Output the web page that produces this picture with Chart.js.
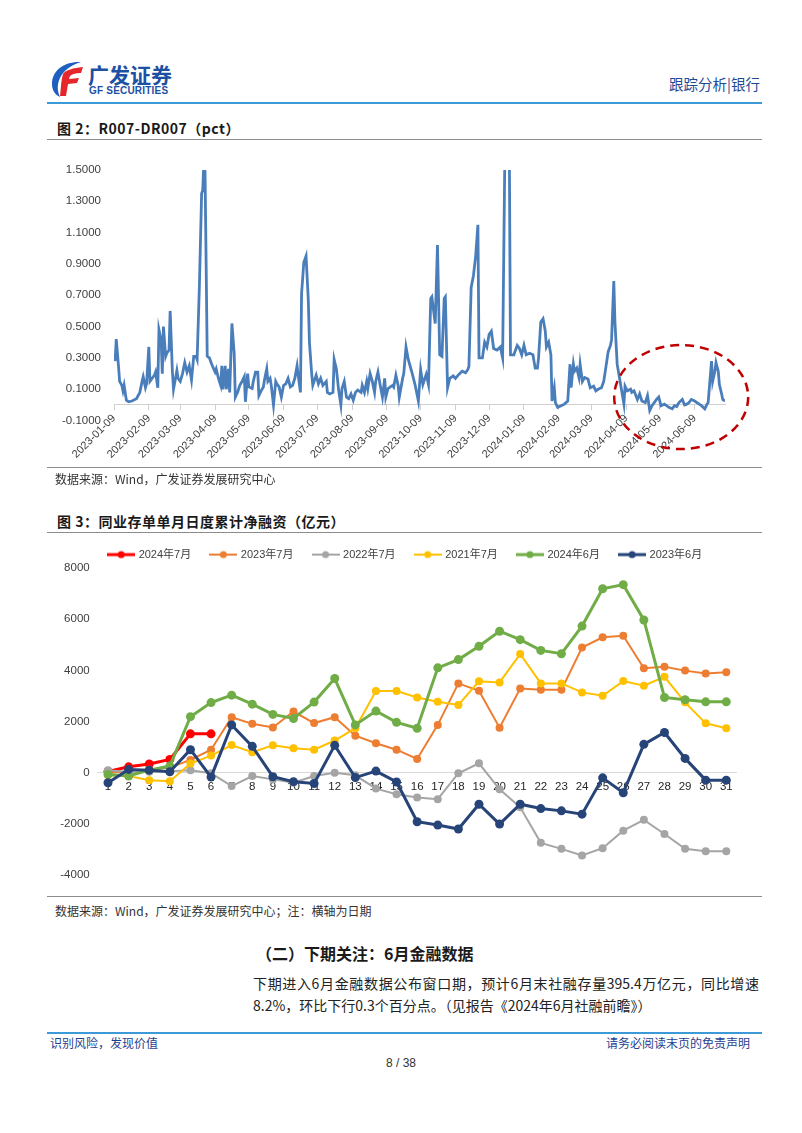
<!DOCTYPE html>
<html lang="zh-CN">
<head>
<meta charset="utf-8">
<title>跟踪分析 | 银行</title>
<script src="https://cdn.jsdelivr.net/npm/chart.js@4.4.1/dist/chart.umd.min.js"></script>
<style>
  html, body { margin: 0; padding: 0; background: #fff; }
  body { width: 802px; height: 1133px; position: relative; overflow: hidden;
         font-family: "Noto Sans CJK SC", "Liberation Sans", sans-serif; color: #222; }
  .abs { position: absolute; white-space: nowrap; }
  .rule { position: absolute; left: 47px; width: 715px; height: 1px; background: #8c8c8c; }
  .blue-rule { position: absolute; left: 47px; width: 715px; height: 2px; background: #3d9ad8; }
  .fig-title { left: 57px; font-size: 14px; line-height: 20px; font-weight: bold; color: #1a1a1a; letter-spacing: 0.5px; }
  .source { left: 55px; font-size: 12px; line-height: 16px; color: #333; }
  canvas { position: absolute; }
</style>
</head>
<body>

<!-- header -->
<svg class="abs" style="left:48px;top:60px" width="38" height="38" viewBox="0 0 38 38">
  <path d="M33 2 C17 1 4 10 4 24 C4 30 7 35 12 37 C9 31 9 24 12 18 C15 11 23 5 33 2 Z" fill="#1f5fbf"/>
  <path d="M15 14 C18 10 25 8 35 7 L33 13 C28 13 24 14 22 16 L21 19 L31 18 L29 23 L20 24 L18 36 L12 36 C13 28 13 20 15 14 Z" fill="#e5262b"/>
</svg>
<div class="abs" style="left:88px;top:61px;font-size:21px;line-height:26px;font-weight:bold;color:#1d4fa3;">广发证券</div>
<div class="abs" style="left:89px;top:85px;font-family:'Liberation Sans',sans-serif;font-size:10px;line-height:11px;font-weight:bold;color:#1d4fa3;letter-spacing:0.2px;">GF SECURITIES</div>
<div class="abs" style="right:42px;top:74px;font-size:14.5px;line-height:20px;color:#1e4b94;">跟踪分析|银行</div>
<div class="blue-rule" style="top:102px;"></div>

<!-- figure 2 -->
<div class="abs fig-title" style="top:118px;">图 2：R007-DR007（pct）</div>
<div class="rule" style="top:139px;"></div>
<canvas id="r007Chart" width="720" height="320" style="left:40px;top:150px;"></canvas>
<div class="rule" style="top:467px;"></div>
<div class="abs source" style="top:471px;">数据来源：Wind，广发证券发展研究中心</div>

<!-- figure 3 -->
<div class="abs fig-title" style="top:511px;">图 3：同业存单单月日度累计净融资（亿元）</div>
<div class="rule" style="top:532px;"></div>
<canvas id="ncdChart" width="720" height="361" style="left:40px;top:529px;"></canvas>
<div class="rule" style="top:896px;"></div>
<div class="abs source" style="top:903px;">数据来源：Wind，广发证券发展研究中心；注：横轴为日期</div>

<!-- text -->
<div class="abs" style="left:256px;top:942px;font-size:16px;line-height:22px;font-weight:bold;color:#1a1a1a;">（二）下期关注：6月金融数据</div>
<div class="abs" style="left:253px;top:972px;width:506px;font-size:14px;line-height:22px;color:#222;text-align:justify;text-align-last:justify;">下期进入6月金融数据公布窗口期，预计6月末社融存量395.4万亿元，同比增速</div>
<div class="abs" style="left:253px;top:994px;font-size:14px;line-height:22px;color:#222;">8.2%，环比下行0.3个百分点。（见报告《2024年6月社融前瞻》）</div>

<!-- footer -->
<div class="blue-rule" style="top:1032px;"></div>
<div class="abs" style="left:50px;top:1035px;font-size:12px;line-height:16px;color:#1f3f8f;">识别风险，发现价值</div>
<div class="abs" style="right:52px;top:1035px;font-size:12px;line-height:16px;color:#1f3f8f;">请务必阅读末页的免责声明</div>
<div class="abs" style="left:0;width:802px;text-align:center;top:1055px;font-family:'Liberation Sans',sans-serif;font-size:12px;line-height:16px;color:#333;">8 / 38</div>

<script>
// ---------- Figure 2: R007-DR007 daily spread ----------
const r007Dates = [
  '2023-01-10','2023-01-11','2023-01-13','2023-01-14','2023-01-16','2023-01-17','2023-01-18','2023-01-20','2023-01-22','2023-01-25','2023-01-29',
  '2023-02-01','2023-02-03','2023-02-04','2023-02-06','2023-02-07','2023-02-09','2023-02-10','2023-02-12','2023-02-14','2023-02-15','2023-02-17','2023-02-18','2023-02-20','2023-02-21','2023-02-22','2023-02-24','2023-02-25','2023-02-27','2023-02-28',
  '2023-03-02','2023-03-03','2023-03-06','2023-03-07','2023-03-09','2023-03-11','2023-03-13','2023-03-15','2023-03-17','2023-03-19','2023-03-21','2023-03-23','2023-03-24','2023-03-26','2023-03-28','2023-03-29','2023-03-30','2023-03-31',
  '2023-04-02','2023-04-04','2023-04-06','2023-04-09','2023-04-10','2023-04-12','2023-04-14','2023-04-15','2023-04-16','2023-04-18','2023-04-19','2023-04-21','2023-04-22','2023-04-24','2023-04-26','2023-04-27','2023-04-29',
  '2023-05-01','2023-05-03','2023-05-05','2023-05-06','2023-05-08','2023-05-09','2023-05-12','2023-05-13','2023-05-15','2023-05-17','2023-05-18','2023-05-20','2023-05-22','2023-05-23','2023-05-25','2023-05-26','2023-05-28','2023-05-29','2023-05-31',
  '2023-06-02','2023-06-03','2023-06-05','2023-06-07','2023-06-09','2023-06-11','2023-06-13','2023-06-15','2023-06-17','2023-06-19','2023-06-21','2023-06-22','2023-06-24','2023-06-25','2023-06-27','2023-06-29',
  '2023-07-01','2023-07-02','2023-07-04','2023-07-05','2023-07-08','2023-07-10','2023-07-12','2023-07-14','2023-07-17','2023-07-18','2023-07-20','2023-07-23','2023-07-24','2023-07-26','2023-07-28','2023-07-30','2023-07-31',
  '2023-08-02','2023-08-04','2023-08-06','2023-08-08','2023-08-10','2023-08-12','2023-08-14','2023-08-17','2023-08-18','2023-08-20','2023-08-22','2023-08-23','2023-08-25','2023-08-27','2023-08-29','2023-08-30',
  '2023-09-01','2023-09-03','2023-09-05','2023-09-07','2023-09-08','2023-09-10','2023-09-12','2023-09-14','2023-09-15','2023-09-17','2023-09-19','2023-09-20','2023-09-23','2023-09-24','2023-09-26','2023-09-28',
  '2023-10-01','2023-10-04','2023-10-07','2023-10-09','2023-10-11','2023-10-14','2023-10-16','2023-10-18','2023-10-19','2023-10-22','2023-10-24','2023-10-26','2023-10-28','2023-10-30','2023-10-31',
  '2023-11-02','2023-11-04','2023-11-07','2023-11-09','2023-11-12','2023-11-15','2023-11-18','2023-11-20','2023-11-21','2023-11-23','2023-11-25','2023-11-27','2023-11-29','2023-11-30',
  '2023-12-03','2023-12-05','2023-12-07','2023-12-09','2023-12-11','2023-12-13','2023-12-16','2023-12-19','2023-12-21','2023-12-23','2023-12-25','2023-12-27','2023-12-28','2023-12-31',
  '2024-01-03','2024-01-05','2024-01-07','2024-01-09','2024-01-11','2024-01-14','2024-01-17','2024-01-19','2024-01-21','2024-01-22','2024-01-24','2024-01-26','2024-01-28','2024-01-29','2024-01-31',
  '2024-02-02','2024-02-03','2024-02-05','2024-02-06','2024-02-08','2024-02-11','2024-02-14','2024-02-17','2024-02-19','2024-02-20','2024-02-22','2024-02-23','2024-02-25','2024-02-27','2024-02-28',
  '2024-03-01','2024-03-03','2024-03-06','2024-03-08','2024-03-11','2024-03-13','2024-03-15','2024-03-18','2024-03-20','2024-03-21','2024-03-24','2024-03-26','2024-03-27','2024-03-29','2024-03-30',
  '2024-04-01','2024-04-03','2024-04-05','2024-04-07','2024-04-08','2024-04-10','2024-04-13','2024-04-14','2024-04-16','2024-04-19','2024-04-21','2024-04-23','2024-04-26','2024-04-28','2024-04-30',
  '2024-05-02','2024-05-04','2024-05-06','2024-05-08','2024-05-10','2024-05-13','2024-05-15','2024-05-17','2024-05-20','2024-05-22','2024-05-24','2024-05-26','2024-05-29','2024-05-31',
  '2024-06-02','2024-06-04','2024-06-06','2024-06-09','2024-06-12','2024-06-15','2024-06-18','2024-06-20','2024-06-21','2024-06-24','2024-06-25','2024-06-27','2024-06-28','2024-06-30',
  '2024-07-01','2024-07-03','2024-07-04','2024-07-06'
];
const r007Values = [
  0.28, 0.42, 0.25, 0.15, 0.125, 0.09, 0.125, 0.03, 0.02, 0.025, 0.04,
  0.08, 0.15, 0.18, 0.11, 0.135, 0.37, 0.15, 0.17, 0.19, 0.21, 0.11, 0.48, 0.41, 0.2, 0.5, 0.31, 0.33, 0.35, 0.6,
  0.21, 0.1, 0.22, 0.17, 0.15, 0.2, 0.27, 0.21, 0.25, 0.16, 0.31, 0.31, 0.29, 0.75, 1.35, 1.37, 1.55, 1.52,
  0.31, 0.3, 0.26, 0.21, 0.23, 0.17, 0.125, 0.25, 0.1, 0.25, 0.1, 0.23, 0.08, 0.52, 0.33, 0.05, 0.08,
  0.125, 0.15, 0.18, 0.02, 0.2, 0.115, 0.105, 0.15, 0.21, 0.21, 0.06, 0.09, 0.115, 0.16, 0.23, 0.15, 0.17, 0.125, 0,
  0.15, 0.135, 0.115, 0.05, 0.125, 0.135, 0.17, 0.115, 0.125, 0.17, 0.25, 0.19, 0.08, 0.71, 0.91, 0.95,
  0.67, 0.4, 0.2, 0.125, 0.19, 0.135, 0.17, 0.125, 0.15, 0.08, 0.07, 0.08, 0.29, 0.23, 0.095, 0, 0.105,
  0.15, 0.05, 0.04, 0.07, 0.03, 0.08, 0.095, 0.08, 0.125, 0.08, 0.15, 0.105, 0.2, 0.15, 0.08, 0.15,
  0.21, 0.125, 0.05, 0.17, 0.05, 0.105, 0.115, 0.125, 0.115, 0.19, 0.125, 0.05, 0.17, 0.2, 0.37, 0.29,
  0.215, 0.13, 0.025, 0.225, 0.13, 0.195, 0.13, 0.68, 0.69, 0.52, 1.02, 0.32, 0.31, 0.68, 0.69,
  0.11, 0.17, 0.185, 0.17, 0.195, 0.215, 0.205, 0.225, 0.245, 0.75, 0.825, 0.95, 1.15, 0.3,
  0.3, 0.4, 0.37, 0.45, 0.47, 0.36, 0.35, 0.37, 0.3, 1.6, 1.6, 1.6, 0.32, 0.32,
  0.38, 0.36, 0.32, 0.38, 0.32, 0.33, 0.32, 0.235, 0.235, 0.3, 0.53, 0.55, 0.47, 0.37, 0.4,
  0.32, 0.025, 0.11, 0.015, -0.015, -0.005, 0.005, 0.025, 0.26, 0.11, 0.26, 0.215, 0.235, 0.175, 0.26,
  0.15, 0.175, 0.165, 0.11, 0.12, 0.09, 0.1, 0.11, 0.15, 0.195, 0.34, 0.38, 0.415, 0.79, 0.53,
  0.26, 0.175, 0.09, 0.005, 0.12, 0.09, 0.1, 0.08, 0.09, 0.035, 0.07, 0.025, 0.015, 0.06, -0.035,
  -0.005, 0.015, 0.035, 0.05, -0.005, 0.005, -0.005, -0.015, -0.025, -0.005, -0.01, 0.015, 0.035, 0,
  0.005, 0.015, 0.035, 0.025, 0.01, -0.005, -0.025, 0.005, 0.015, 0.28, 0.15, 0.215, 0.27, 0.215,
  0.13, 0.07, 0.035, 0.025
];
const r007TickLabels = [
  '2023-01-09','2023-02-09','2023-03-09','2023-04-09','2023-05-09','2023-06-09','2023-07-09','2023-08-09','2023-09-09',
  '2023-10-09','2023-11-09','2023-12-09','2024-01-09','2024-02-09','2024-03-09','2024-04-09','2024-05-09','2024-06-09'
];
// dashed ring marking the recent low-spread period
const ringCenterDate = '2024-05-28';
const ringCenterValue = 0.05;

// ---------- Figure 3: NCD cumulative net financing by day of month ----------
const dayLabels = ['1','2','3','4','5','6','7','8','9','10','11','12','13','14','15','16','17','18','19','20','21','22','23','24','25','26','27','28','29','30','31'];
const seriesNames = ['2024年7月', '2023年7月', '2022年7月', '2021年7月', '2024年6月', '2023年6月'];
const seriesColors = ['#ff0000', '#ed7d31', '#a5a5a5', '#ffc000', '#70ad47', '#264478'];
const seriesWidths = [3, 2, 2, 2, 3, 3];
const jul2024 = [50, 230, 340, 520, 1520, 1520];
const jul2023 = [0, 60, 120, 200, 500, 900, 2170, 1910, 1770, 2390, 1940, 2170, 1450, 1150, 900, 540, 1870, 3490, 3200, 1760, 3290, 3240, 3240, 4890, 5290, 5350, 4080, 4140, 3990, 3880, 3930];
const jul2022 = [100, 30, 40, 60, 100, -20, -520, -130, -260, -390, -130, 0, -100, -620, -840, -970, -1035, -20, 366, -650, -1350, -2740, -2975, -3235, -2950, -2265, -1840, -2395, -2975, -3065, -3065];
const jul2021 = [-100, -130, -290, -330, 360, 670, 1080, 800, 1070, 955, 900, 1260, 1740, 3190, 3190, 2940, 2770, 2650, 3570, 3530, 4640, 3490, 3490, 3140, 3010, 3580, 3400, 3750, 2750, 1930, 1740];
const jun2024 = [-65, -130, 100, 260, 2190, 2740, 3030, 2680, 2280, 2120, 2760, 3680, 1870, 2410, 1970, 1740, 4100, 4420, 4940, 5530, 5200, 4780, 4650, 5730, 7190, 7350, 5970, 2940, 2850, 2770, 2770];
const jun2023 = [-390, 130, 100, 40, 900, -170, 1870, 1030, -155, -350, -420, 1070, -190, 65, -360, -1915, -2045, -2200, -1230, -2005, -1230, -1400, -1490, -1620, -200, -780, 1110, 1570, 560, -290, -290];
const seriesValues = [jul2024, jul2023, jul2022, jul2021, jun2024, jun2023];

Chart.defaults.font.family = '"Liberation Sans", Arial, "Noto Sans CJK SC", sans-serif';
Chart.defaults.color = '#404040';

function dayIndex(s) {
  const p = s.split('-');
  return Math.round((Date.UTC(+p[0], +p[1] - 1, +p[2]) - Date.UTC(2023, 0, 9)) / 86400000);
}

const tickDays = r007TickLabels.map(dayIndex);
const r007Points = r007Dates.map((d, i) => ({ x: dayIndex(d), y: r007Values[i] }));

const ringPlugin = {
  id: 'ring',
  afterDatasetsDraw(chart) {
    const { ctx, scales } = chart;
    const cx = scales.x.getPixelForValue(dayIndex(ringCenterDate));
    const cy = scales.y.getPixelForValue(ringCenterValue);
    ctx.save();
    ctx.strokeStyle = '#c00000';
    ctx.lineWidth = 2.5;
    ctx.setLineDash([9, 6]);
    ctx.beginPath();
    ctx.ellipse(cx, cy, 67, 52, 0, 0, Math.PI * 2);
    ctx.stroke();
    ctx.restore();
  }
};

new Chart(document.getElementById('r007Chart'), {
  type: 'line',
  data: {
    datasets: [{
      label: 'R007-DR007',
      data: r007Points,
      borderColor: '#4a7ebb',
      borderWidth: 2.8,
      pointRadius: 0,
      tension: 0
    }]
  },
  options: {
    responsive: false,
    animation: false,
    layout: { padding: { left: 0, right: 35, top: 13, bottom: 49.4 } },
    plugins: { legend: { display: false }, tooltip: { enabled: false } },
    scales: {
      x: {
        type: 'linear',
        position: { y: 0 },
        min: 0,
        max: dayIndex(r007Dates[r007Dates.length - 1]),
        afterBuildTicks: s => { s.ticks = tickDays.map(v => ({ value: v })); },
        ticks: {
          autoSkip: false, minRotation: 45, maxRotation: 45, padding: 2,
          font: { size: 11 }, color: '#404040',
          callback: v => r007TickLabels[tickDays.indexOf(v)]
        },
        grid: { display: true, drawOnChartArea: false, drawTicks: true, tickLength: 5, color: '#d0d0d0' },
        border: { color: '#d0d0d0', width: 1 }
      },
      y: {
        min: -0.1,
        max: 1.5,
        afterFit: s => { s.width = 74; },
        ticks: { stepSize: 0.2, padding: 13, font: { size: 11.5 }, color: '#404040', callback: v => v.toFixed(4) },
        grid: { display: false, drawTicks: false },
        border: { display: false }
      }
    }
  },
  plugins: [ringPlugin]
});

function legendIcon(color, width) {
  const c = document.createElement('canvas');
  c.width = 28; c.height = 10;
  const g = c.getContext('2d');
  g.strokeStyle = color; g.lineWidth = width;
  g.beginPath(); g.moveTo(0, 5); g.lineTo(28, 5); g.stroke();
  g.fillStyle = color;
  g.beginPath(); g.arc(14, 5, 3.5, 0, Math.PI * 2); g.fill();
  return c;
}

new Chart(document.getElementById('ncdChart'), {
  type: 'line',
  data: {
    labels: dayLabels,
    datasets: seriesNames.map((name, i) => ({
      label: name,
      data: seriesValues[i],
      borderColor: seriesColors[i],
      backgroundColor: seriesColors[i],
      borderWidth: seriesWidths[i],
      pointRadius: seriesWidths[i] > 2 ? 4.5 : 4,
      pointBackgroundColor: seriesColors[i],
      pointBorderColor: seriesColors[i],
      pointBorderWidth: 0,
      tension: 0,
      order: seriesNames.length - i
    }))
  },
  options: {
    responsive: false,
    animation: false,
    layout: { padding: { left: 20, right: 8.7, top: 0, bottom: 13 } },
    plugins: {
      tooltip: { enabled: false },
      legend: {
        position: 'top',
        maxHeight: 39,
        labels: {
          usePointStyle: true,
          pointStyleWidth: 24,
          padding: 20.1,
          color: '#404040',
          font: { size: 11 },
          sort: (a, b) => a.datasetIndex - b.datasetIndex,
          generateLabels(chart) {
            const items = Chart.defaults.plugins.legend.labels.generateLabels(chart);
            items.forEach(it => {
              it.pointStyle = legendIcon(seriesColors[it.datasetIndex], seriesWidths[it.datasetIndex]);
            });
            return items;
          }
        }
      }
    },
    scales: {
      x: {
        type: 'category',
        position: { y: 0 },
        offset: true,
        grid: { display: false, drawTicks: false },
        border: { color: '#d9d9d9', width: 1 },
        ticks: { autoSkip: false, maxRotation: 0, padding: 7, font: { size: 11.5 }, color: '#262626' }
      },
      y: {
        min: -4000,
        max: 8000,
        afterFit: s => { s.width = 37.7; },
        ticks: { stepSize: 2000, padding: 8, font: { size: 11.5 }, color: '#404040', callback: v => String(v) },
        grid: { display: false, drawTicks: false },
        border: { display: false }
      },
      // empty right-hand spacer so the legend centres like the original
      spacer: {
        type: 'linear',
        position: 'right',
        afterFit: s => { s.width = 14.7; },
        ticks: { display: false },
        grid: { display: false, drawTicks: false },
        border: { display: false }
      }
    }
  }
});
</script>
</body>
</html>
